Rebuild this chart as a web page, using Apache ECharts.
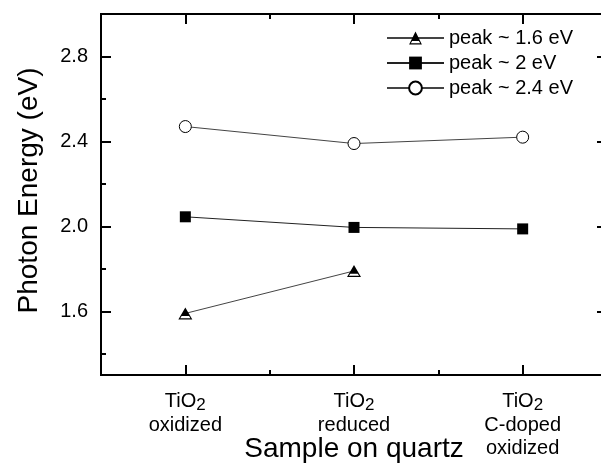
<!DOCTYPE html>
<html><head><meta charset="utf-8">
<script src="https://cdn.jsdelivr.net/npm/echarts@6/dist/echarts.min.js"></script>
<style>html,body{margin:0;padding:0;background:#fff}#c{width:601px;height:470px}</style>
</head><body><div id="c"></div>
<script>
// ---- data ----
const categories = ['TiO2 oxidized', 'TiO2 reduced', 'TiO2 C-doped oxidized'];
const categoryMain = ['TiO', 'TiO', 'TiO'];
const categorySub = ['2', '2', '2'];
const categoryLines = [['oxidized'], ['reduced'], ['C-doped', 'oxidized']];
const xPositions = [1, 2, 3];
const xMinorTicks = [1.5, 2.5];
const seriesNames = ['peak ~ 1.6 eV', 'peak ~ 2 eV', 'peak ~ 2.4 eV'];
const peak16 = [1.59, 1.79, null];
const peak2 = [2.045, 1.995, 1.988];
const peak24 = [2.47, 2.39, 2.42];
const yMajorTicks = [1.6, 2.0, 2.4, 2.8];
const yMinorTicks = [1.4, 1.8, 2.2, 2.6];
const xTitle = 'Sample on quartz';
const yTitle = 'Photon Energy (eV)';

const FONT = "'Liberation Sans', Arial, Helvetica, sans-serif";
const TRI = 'path://M7,0 L14,12 L0,12 Z M3.3,8.7 L1.9,10.9 L12.1,10.9 L10.7,8.7 Z';

function pts(vals) {
  const out = [];
  vals.forEach((v, i) => { if (v !== null) out.push([xPositions[i], v]); });
  return out;
}

const chart = echarts.init(document.getElementById('c'), null, {renderer: 'canvas'});

function xAxisDef(pos, ticks, len, withLabels, withName) {
  return {
    type: 'value', position: pos, min: 0.5, max: 3.5,
    splitLine: {show: false},
    axisLine: {show: true, onZero: false, lineStyle: {color: '#000', width: 2}},
    axisTick: {show: true, inside: true, length: len, customValues: ticks, lineStyle: {color: '#000', width: 2}},
    axisLabel: withLabels ? {
      show: true, customValues: xPositions, margin: 13, fontFamily: FONT, color: '#000',
      formatter: function (v) {
        const i = xPositions.indexOf(Math.round(v));
        if (i < 0) return '';
        return '{t|' + categoryMain[i] + '}{s|' + categorySub[i] + '}\n' +
          categoryLines[i].map(l => '{l|' + l + '}').join('\n');
      },
      rich: {
        t: {fontSize: 20, lineHeight: 24, fontFamily: FONT, color: '#000'},
        s: {fontSize: 17, padding: [9, 0, 0, 0], fontFamily: FONT, color: '#000'},
        l: {fontSize: 20, lineHeight: 23, fontFamily: FONT, color: '#000'}
      }
    } : {show: false},
    name: withName ? xTitle : '',
    nameLocation: 'middle', nameGap: 60, nameMoveOverlap: false,
    nameTextStyle: {fontSize: 28, fontFamily: FONT, color: '#000'}
  };
}
function yAxisDef(pos, ticks, len, withLabels, withName) {
  return {
    type: 'value', position: pos, min: 1.3, max: 3.0,
    splitLine: {show: false},
    axisLine: {show: true, onZero: false, lineStyle: {color: '#000', width: 2}},
    axisTick: {show: true, inside: true, length: len, customValues: ticks, lineStyle: {color: '#000', width: 2}},
    axisLabel: withLabels ? {
      show: true, customValues: yMajorTicks, margin: 13, fontSize: 20, fontFamily: FONT, color: '#000',
      formatter: v => v.toFixed(1)
    } : {show: false},
    name: withName ? yTitle : '',
    nameLocation: 'middle', nameGap: 58, nameMoveOverlap: false,
    nameTextStyle: {fontSize: 28, fontFamily: FONT, color: '#000', padding: [0, 0, 0, 8]}
  };
}

const option = {
  backgroundColor: '#fff',
  animation: false,
  grid: {left: 101, top: 14, right: -6, bottom: 95, containLabel: false, outerBoundsMode: 'none'},
  legend: {
    orient: 'vertical', left: 386, top: 28, padding: 0,
    itemWidth: 57, itemHeight: 16, itemGap: 5,
    textStyle: {fontSize: 20, fontFamily: FONT, color: '#000'},
    data: seriesNames
  },
  xAxis: [
    xAxisDef('bottom', xPositions, 10, true, true),
    xAxisDef('bottom', xMinorTicks, 5, false, false),
    xAxisDef('top', xPositions, 10, false, false),
    xAxisDef('top', xMinorTicks, 5, false, false)
  ],
  yAxis: [
    yAxisDef('left', yMajorTicks, 10, true, true),
    yAxisDef('left', yMinorTicks, 5, false, false),
    yAxisDef('right', yMajorTicks, 10, false, false),
    yAxisDef('right', yMinorTicks, 5, false, false)
  ],
  series: [
    {
      name: seriesNames[0], type: 'line', data: pts(peak16),
      symbol: TRI, symbolSize: [14, 12],
      itemStyle: {color: '#000', borderWidth: 0},
      lineStyle: {color: '#444', width: 1}
    },
    {
      name: seriesNames[1], type: 'line', data: pts(peak2),
      symbol: 'rect', symbolSize: 11,
      itemStyle: {color: '#000', borderWidth: 0},
      lineStyle: {color: '#222', width: 1}
    },
    {
      name: seriesNames[2], type: 'line', data: pts(peak24),
      symbol: 'circle', symbolSize: 12,
      itemStyle: {color: '#fff', borderColor: '#000', borderWidth: 1},
      lineStyle: {color: '#444', width: 1}
    }
  ]
};
chart.setOption(option);
</script>
</body></html>
